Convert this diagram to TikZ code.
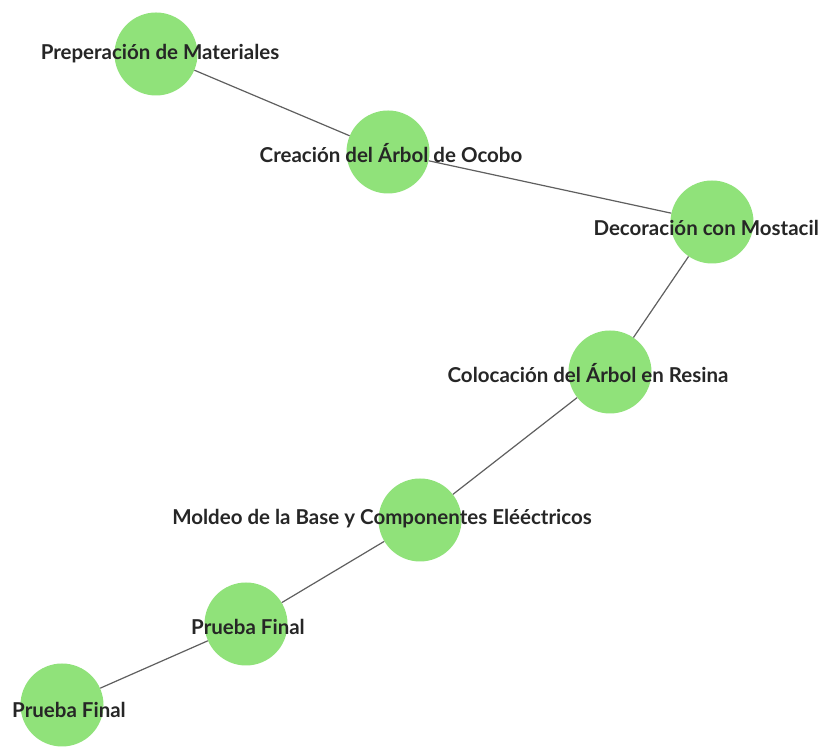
\documentclass[tikz,border=0pt]{standalone}
\usepackage{fontspec}
\setmainfont{Lato}
\definecolor{nodegreen}{RGB}{144,226,122}
\definecolor{edgegray}{RGB}{95,95,95}
\begin{document}
\begin{tikzpicture}[x=1pt,y=1pt,
  stepnode/.style={circle,fill=nodegreen,draw=none,minimum size=83pt,inner sep=0pt},
  steplabel/.style={font=\fontsize{20.5}{24}\selectfont\bfseries,text=black!85,inner sep=0pt},
  link/.style={draw=edgegray,line width=1.2pt}]
\useasboundingbox (0,0) rectangle (819,751);
\fill[white] (0,0) rectangle (819,751);
\node[stepnode] (n1) at (156,697) {};
\node[stepnode] (n2) at (388,599) {};
\node[stepnode] (n3) at (712,529) {};
\node[stepnode] (n4) at (610,379) {};
\node[stepnode] (n5) at (420,231) {};
\node[stepnode] (n6) at (246,127) {};
\node[stepnode] (n7) at (62,46) {};
\draw[link] (n1) -- (n2);
\draw[link] (n2) -- (n3);
\draw[link] (n3) -- (n4);
\draw[link] (n4) -- (n5);
\draw[link] (n5) -- (n6);
\draw[link] (n6) -- (n7);
\node[steplabel] (l1) at (160,697) {Preperación de Materiales};
\node[steplabel] (l2) at (391,598) {Creación del Árbol de Ocobo};
\node[steplabel,anchor=east] (l3) at (819,523) {Decoración con Mostacil};
\node[steplabel] (l4) at (588,378) {Colocación del Árbol en Resina};
\node[steplabel] (l5) at (382,232) {Moldeo de la Base y Componentes Elééctricos};
\node[steplabel] (l6) at (248,124) {Prueba Final};
\node[steplabel] (l7) at (69,41) {Prueba Final};
\end{tikzpicture}
\end{document}
